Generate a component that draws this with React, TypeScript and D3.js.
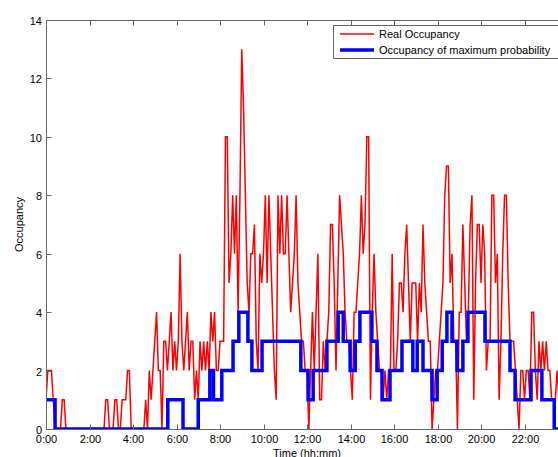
import React from "react";
import * as d3 from "d3";

// real occupancy, one value every 5 minutes (12 per hour)
const realOccupancy: number[] = [
  1, 2, 2, 2, 1, 0, 0, 0, 0, 1, 1, 0, // 0h
  0, 0, 0, 0, 0, 0, 0, 0, 0, 0, 0, 0, // 1h
  0, 0, 0, 0, 0, 0, 0, 0, 0, 1, 1, 0, // 2h
  0, 0, 1, 1, 0, 0, 1, 1, 1, 2, 2, 0, // 3h
  0, 0, 0, 0, 0, 0, 0, 1, 0, 2, 1, 2, // 4h
  3, 4, 2, 2, 0, 3, 3, 2, 3, 4, 2, 3, // 5h
  2, 3, 6, 3, 2, 3, 4, 2, 3, 3, 1, 2, // 6h
  1, 3, 2, 3, 2, 3, 2, 4, 3, 4, 2, 2, // 7h
  3, 3, 3, 10, 10, 5, 6, 8, 6, 8, 4, 8, // 8h
  13, 11, 8, 5, 4, 6, 6, 7, 3, 2, 6, 5, // 9h
  6, 8, 5, 8, 6, 4, 2, 1, 8, 6, 8, 6, // 10h
  6, 8, 6, 4, 5, 6, 8, 5, 4, 3, 3, 2, // 11h
  2, 0, 2, 4, 2, 4, 6, 1, 1, 3, 2, 3, // 12h
  4, 7, 7, 5, 2, 5, 8, 7, 6, 4, 3, 3, // 13h
  2, 1, 4, 4, 5, 6, 8, 6, 7, 10, 10, 1, // 14h
  4, 6, 4, 3, 2, 2, 1, 2, 1, 2, 2, 6, // 15h
  2, 2, 3, 5, 5, 4, 6, 7, 5, 3, 5, 5, // 16h
  5, 3, 5, 4, 7, 5, 4, 3, 3, 0, 1, 2, // 17h
  2, 3, 4, 5, 8, 9, 9, 5, 6, 3, 3, 0, // 18h
  4, 4, 7, 5, 3, 4, 7, 8, 1, 5, 7, 7, // 19h
  5, 7, 6, 2, 3, 3, 8, 8, 5, 6, 1, 3, // 20h
  6, 8, 8, 5, 3, 3, 3, 2, 1, 0, 2, 2, // 21h
  1, 2, 2, 1, 4, 4, 2, 1, 3, 2, 3, 2, // 22h
  3, 2, 2, 1, 1, 1, 2, 1, 0, 0, 0, 0, // 23h
];

// occupancy of maximum probability: step changes
const maxProbTimes: string[] = [
  "0:00", "0:25", "5:36", "6:18", "7:00", "7:32", "7:42", "8:05", "8:36", "8:52",
  "9:17", "9:28", "9:56", "11:43", "12:03", "12:17", "12:55", "13:26", "13:40", "13:59",
  "14:13", "14:26", "14:59", "15:13", "15:27", "15:49", "16:22", "16:52", "17:04", "17:20",
  "17:45", "17:59", "18:13", "18:26", "18:40", "18:54", "19:10", "19:24", "20:11", "21:20",
  "21:34", "22:18", "22:48", "23:22", "24:00",
];
const maxProbValues: number[] = [
  1, 0, 1, 0, 1, 2, 1, 2, 3, 4,
  3, 2, 3, 2, 1, 2, 3, 4, 3, 2,
  3, 4, 3, 2, 1, 2, 3, 2, 3, 2,
  1, 2, 3, 4, 3, 2, 3, 4, 3, 2,
  1, 2, 1, 0, 0,
];

const yTicks = [0, 2, 4, 6, 8, 10, 12, 14];
const xTickHours = [0, 2, 4, 6, 8, 10, 12, 14, 16, 18, 20, 22];
const legendLabels = ["Real Occupancy", "Occupancy of maximum probability"];

const toMinutes = (s: string) => {
  const [h, m] = s.split(":").map(Number);
  return h * 60 + m;
};

const font = "'Liberation Sans', Arial, sans-serif";

export default function App() {
  const width = 558;
  const height = 457;
  const left = 46;
  const right = 568; // plot box continues past the picture edge
  const top = 20;
  const bottom = 429;

  const x = d3.scaleLinear().domain([0, 1440]).range([left, right]);
  const y = d3.scaleLinear().domain([0, 14]).range([bottom, top]);

  const realLine = d3
    .line<number>()
    .x((_, i) => x(i * 5))
    .y((d) => y(d));

  const probData = maxProbTimes.map((t, i) => ({ t: toMinutes(t), v: maxProbValues[i] }));
  const probLine = d3
    .line<{ t: number; v: number }>()
    .x((d) => x(d.t))
    .y((d) => y(d.v))
    .curve(d3.curveStepAfter);

  const axisColor = "#666";

  return (
    <svg
      width={width}
      height={height}
      style={{ position: "absolute", left: 0, top: 0, background: "#fff" }}
      fontFamily={font}
    >
      <defs>
        <clipPath id="plot">
          <rect x={left} y={top} width={right - left} height={bottom - top} />
        </clipPath>
      </defs>

      <g clipPath="url(#plot)">
        <path d={realLine(realOccupancy) || ""} fill="none" stroke="#ff0000" strokeWidth={1.5} />
        <path d={probLine(probData) || ""} fill="none" stroke="#0000ff" strokeWidth={3.5} />
      </g>

      {/* box */}
      <rect
        x={left + 0.5}
        y={top + 0.5}
        width={right - left}
        height={bottom - top}
        fill="none"
        stroke={axisColor}
        strokeWidth={1}
      />

      {/* x ticks */}
      {xTickHours.map((h) => {
        const px = Math.round(x(h * 60)) + 0.5;
        return (
          <g key={h}>
            <line x1={px} x2={px} y1={bottom + 0.5} y2={bottom - 4.5} stroke={axisColor} />
            <line x1={px} x2={px} y1={top + 0.5} y2={top + 5.5} stroke={axisColor} />
            <text x={px} y={443} fontSize={11} textAnchor="middle" fill="#000">
              {`${h}:00`}
            </text>
          </g>
        );
      })}

      {/* y ticks */}
      {yTicks.map((v) => {
        const py = Math.round(y(v)) + 0.5;
        return (
          <g key={v}>
            <line x1={left + 0.5} x2={left + 5.5} y1={py} y2={py} stroke={axisColor} />
            <text x={42} y={py + 4} fontSize={11} textAnchor="end" fill="#000">
              {v}
            </text>
          </g>
        );
      })}

      <text x={(left + right) / 2} y={457} fontSize={11} textAnchor="middle" fill="#000">
        Time (hh:mm)
      </text>
      <text
        transform={`translate(23,${(top + bottom) / 2}) rotate(-90)`}
        fontSize={11}
        textAnchor="middle"
        fill="#000"
      >
        Occupancy
      </text>

      {/* legend */}
      <g>
        <rect x={333.5} y={25.5} width={240} height={33} fill="#fff" stroke={axisColor} />
        <line x1={340} x2={374} y1={34} y2={34} stroke="#ff0000" strokeWidth={1.5} />
        <text x={379} y={38} fontSize={11} fill="#000">
          {legendLabels[0]}
        </text>
        <line x1={340} x2={374} y1={50} y2={50} stroke="#0000ff" strokeWidth={3.5} />
        <text x={379} y={54} fontSize={11} fill="#000">
          {legendLabels[1]}
        </text>
      </g>
    </svg>
  );
}
